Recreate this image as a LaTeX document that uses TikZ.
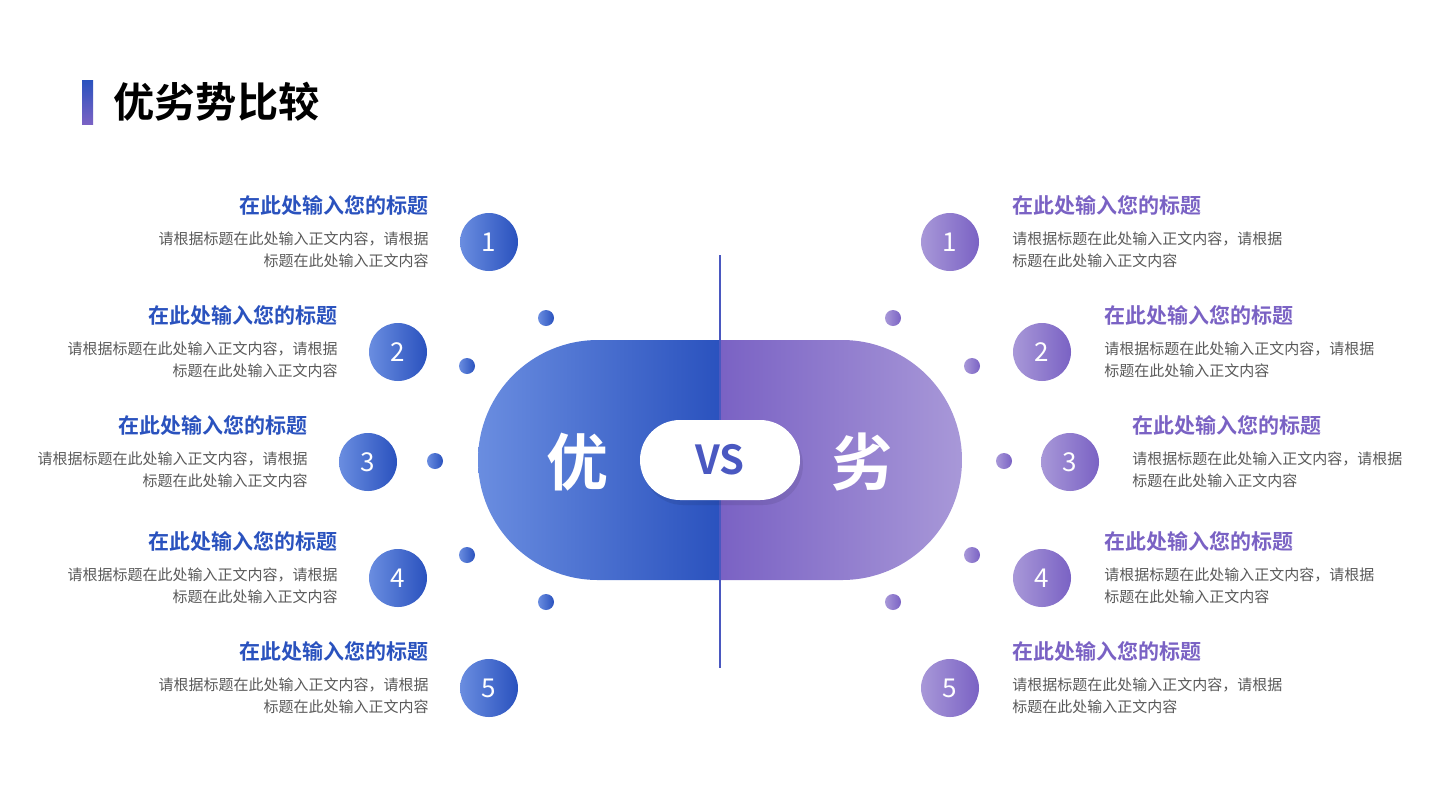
\documentclass[tikz,border=0pt]{standalone}
\usepackage{fontspec}
\newfontfamily\cjk{Noto Sans CJK SC}
\newfontfamily\cjkb{Noto Sans CJK SC Bold}
\usetikzlibrary{positioning}
\definecolor{goodblue}{HTML}{2A52BE}
\definecolor{goodlight}{HTML}{6A8DE0}
\definecolor{badpurple}{HTML}{7A62C4}
\definecolor{badlight}{HTML}{A898D8}
\definecolor{bodygray}{HTML}{595959}
\tikzset{goodnum/.style={circle, minimum size=29pt, inner sep=0, left color=goodlight, right color=goodblue, text=white, font=\cjk\fontsize{13}{13}\selectfont}}
\tikzset{badnum/.style={circle, minimum size=29pt, inner sep=0, left color=badlight, right color=badpurple, text=white, font=\cjk\fontsize{13}{13}\selectfont}}
\tikzset{gooddot/.style={circle, minimum size=8pt, inner sep=0, left color=goodlight, right color=goodblue}}
\tikzset{baddot/.style={circle, minimum size=8pt, inner sep=0, left color=badlight, right color=badpurple}}
\tikzset{headtxt/.style={inner sep=0, font=\cjkb\fontsize{10.5}{10.5}\selectfont}}
\tikzset{bodytxt/.style={inner sep=0, text=bodygray, font=\cjk\fontsize{7.5}{11}\selectfont}}
\begin{document}
\begin{tikzpicture}[x=0.5pt, y=-0.5pt]
\useasboundingbox (0,0) rectangle (1440,810);
% title
\shade[top color=goodblue, bottom color=badpurple] (82,80) rectangle (93,124);
\node[anchor=west, inner sep=0, font=\cjkb\fontsize{20.6}{20.6}\selectfont] (title) at (113,102) {优劣势比较};
% center pill
\begin{scope}
  \clip[rounded corners=60pt] (478,340) rectangle (962,580);
  \shade[left color=goodlight, right color=goodblue] (478,340) rectangle (720,580);
  \shade[left color=badpurple, right color=badlight] (720,340) rectangle (962,580);
\end{scope}
\draw[color=goodblue!60!badpurple, line width=0.8pt] (720,255) -- (720,668);
\fill[black, opacity=0.08, rounded corners=20pt] (643,425) rectangle (803,505);
\fill[white, rounded corners=20pt] (640,420) rectangle (800,500);
\node[font=\cjkb\fontsize{20}{20}\selectfont, text=goodblue!60!badpurple] (vs) at (720,460) {VS};
\node[font=\cjkb\fontsize{31}{31}\selectfont, text=white] (good) at (577,462) {优};
\node[font=\cjkb\fontsize{31}{31}\selectfont, text=white] (bad) at (862,462) {劣};
% left items
\foreach \n/\cx/\cy/\dx/\dy in {1/489/242/546/318, 2/398/352/467/366, 3/368/462/435/461, 4/398/578/467/555, 5/489/688/546/602}{
  \node[goodnum] (g\n) at (\cx,\cy) {\n};
  \node[gooddot] (gd\n) at (\dx,\dy) {};
  \node[headtxt, text=goodblue, anchor=east] (gh\n) at (\cx-60,\cy-37) {在此处输入您的标题};
  \node[bodytxt, anchor=north east, align=right] (gb\n) at (\cx-60,\cy-11) {请根据标题在此处输入正文内容，请根据\\标题在此处输入正文内容};
}
% right items
\foreach \n/\cx/\cy/\dx/\dy in {1/950/242/893/318, 2/1042/352/972/366, 3/1070/462/1004/461, 4/1042/578/972/555, 5/950/688/893/602}{
  \node[badnum] (b\n) at (\cx,\cy) {\n};
  \node[baddot] (bd\n) at (\dx,\dy) {};
  \node[headtxt, text=badpurple, anchor=west] (bh\n) at (\cx+62,\cy-37) {在此处输入您的标题};
  \node[bodytxt, anchor=north west, align=left] (bb\n) at (\cx+62,\cy-11) {请根据标题在此处输入正文内容，请根据\\标题在此处输入正文内容};
}
\end{tikzpicture}
\end{document}
